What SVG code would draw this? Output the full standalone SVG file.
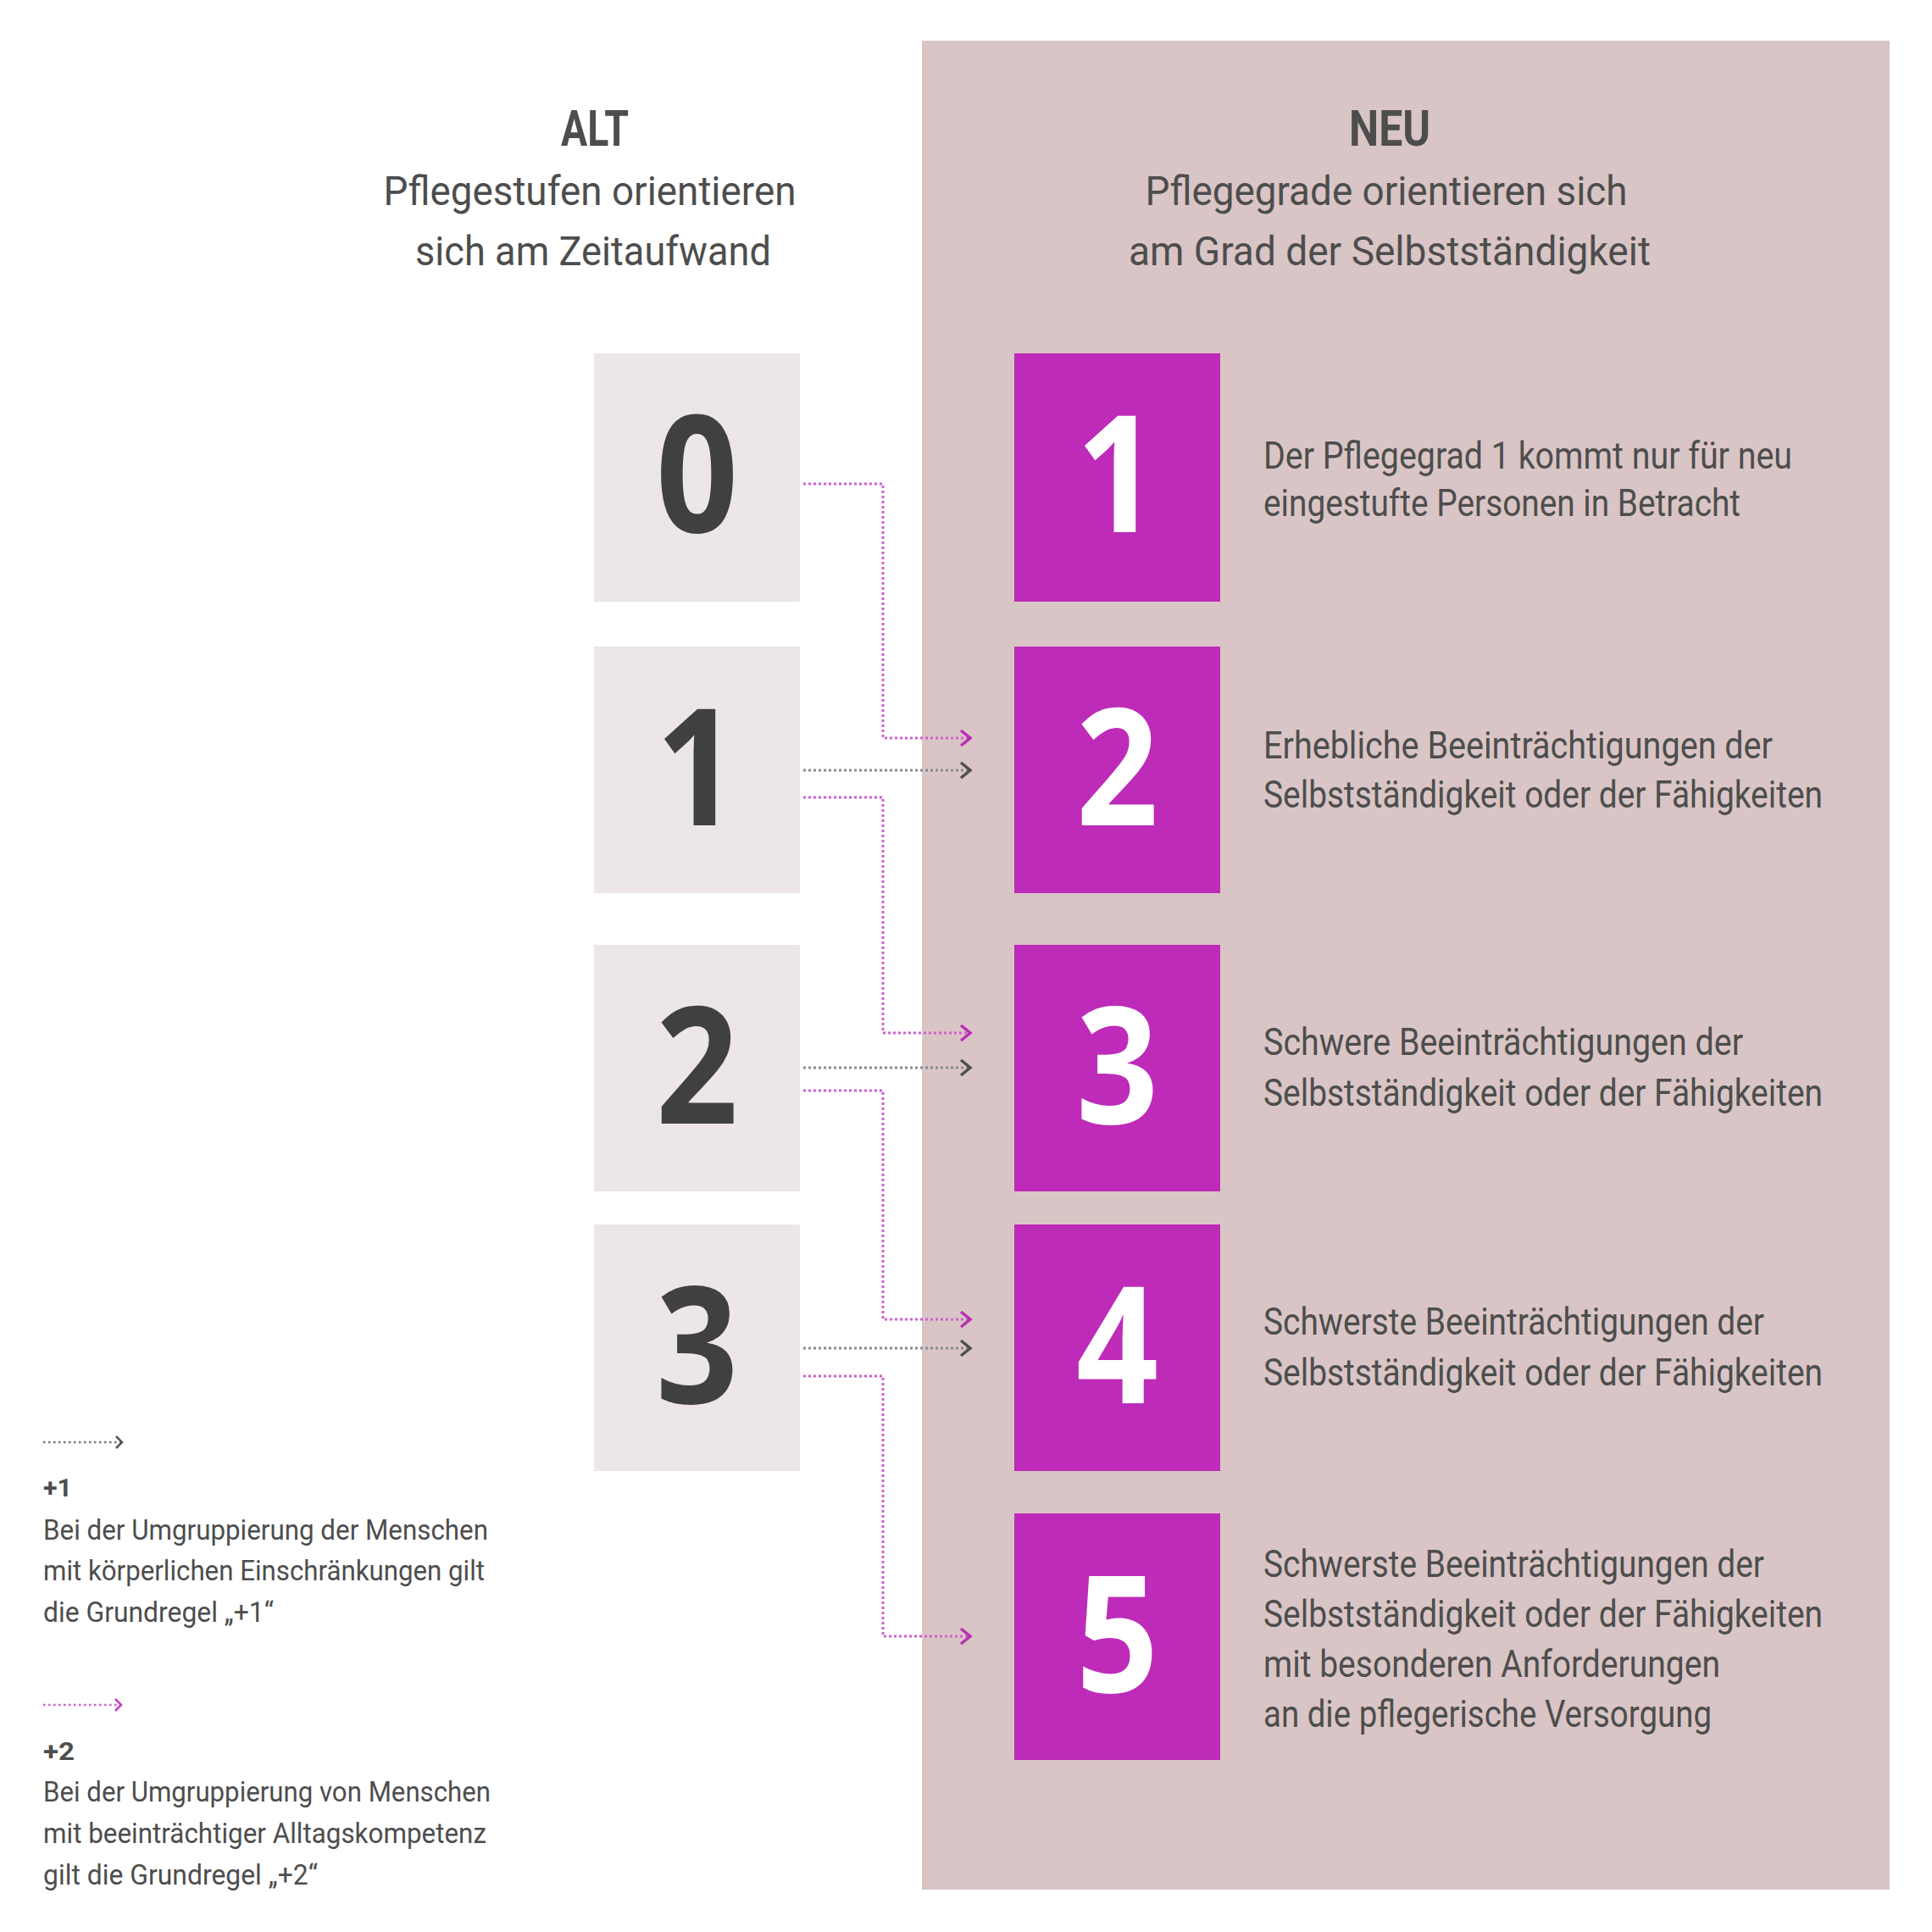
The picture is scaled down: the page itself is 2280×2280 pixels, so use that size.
<svg xmlns="http://www.w3.org/2000/svg" width="2280" height="2280" viewBox="0 0 2280 2280">
<defs>
<style>
.t{font-family:Roboto,"Open Sans","Liberation Sans",sans-serif;fill:#4d4d4d}
.bold{font-weight:700}
.h{font-size:59px}
.sub{font-size:49px;font-weight:400}
.body{font-size:44px;font-weight:400}
.leg{font-size:34px;font-weight:400}
.legh{font-size:30px;font-weight:700}
.dg{font-family:"Open Sans",Roboto,"Liberation Sans",sans-serif;font-weight:700;font-size:193px;text-anchor:middle}
.old{fill:#ede6e6}
.new{fill:#be2bb8}
.pk{fill:none;stroke:#d25fcf;stroke-width:3;stroke-dasharray:3 3}
.gr{fill:none;stroke:#8a8a8a;stroke-width:3;stroke-dasharray:3 3}
</style>
<marker id="ap" markerUnits="userSpaceOnUse" markerWidth="30" markerHeight="30" viewBox="0 0 30 30" refX="16" refY="15" orient="auto" overflow="visible">
<path d="M5 6 L16 15 L5 24" fill="none" stroke="#b82fb4" stroke-width="3.5"/>
</marker>
<marker id="ag" markerUnits="userSpaceOnUse" markerWidth="30" markerHeight="30" viewBox="0 0 30 30" refX="16" refY="15" orient="auto" overflow="visible">
<path d="M5 6 L16 15 L5 24" fill="none" stroke="#4f4f4f" stroke-width="3.5"/>
</marker>
<marker id="sp" markerUnits="userSpaceOnUse" markerWidth="20" markerHeight="20" viewBox="0 0 20 20" refX="12" refY="10" orient="auto" overflow="visible">
<path d="M5 3 L12 10 L5 17" fill="none" stroke="#c83ec4" stroke-width="2.5"/>
</marker>
<marker id="sg" markerUnits="userSpaceOnUse" markerWidth="20" markerHeight="20" viewBox="0 0 20 20" refX="12" refY="10" orient="auto" overflow="visible">
<path d="M5 3 L12 10 L5 17" fill="none" stroke="#555" stroke-width="2.5"/>
</marker>
</defs>
<rect width="2280" height="2280" fill="#ffffff"/>
<rect id="panel-neu" x="1088" y="48" width="1142" height="2182" fill="#d9c5c5"/>

<g id="header-alt" class="t">
<text class="h bold" x="702" y="172" text-anchor="middle" textLength="80" lengthAdjust="spacingAndGlyphs">ALT</text>
<text class="sub" x="696" y="242" text-anchor="middle" textLength="487" lengthAdjust="spacingAndGlyphs">Pflegestufen orientieren</text>
<text class="sub" x="700" y="313" text-anchor="middle" textLength="420" lengthAdjust="spacingAndGlyphs">sich am Zeitaufwand</text>
</g>
<g id="header-neu" class="t">
<text class="h bold" x="1640" y="172" text-anchor="middle" textLength="96" lengthAdjust="spacingAndGlyphs">NEU</text>
<text class="sub" x="1636" y="242" text-anchor="middle" textLength="569" lengthAdjust="spacingAndGlyphs">Pflegegrade orientieren sich</text>
<text class="sub" x="1640" y="313" text-anchor="middle" textLength="616" lengthAdjust="spacingAndGlyphs">am Grad der Selbstständigkeit</text>
</g>

<g id="alt-0"><rect class="old" x="701" y="417" width="243" height="293"/><text class="dg" fill="#404040" transform="translate(822.5,628) scale(0.88,1)">0</text></g>
<g id="alt-1"><rect class="old" x="701" y="763" width="243" height="291"/><text class="dg" fill="#404040" transform="translate(822.5,974) scale(0.88,1)">1</text></g>
<g id="alt-2"><rect class="old" x="701" y="1115" width="243" height="291"/><text class="dg" fill="#404040" transform="translate(822.5,1326) scale(0.88,1)">2</text></g>
<g id="alt-3"><rect class="old" x="701" y="1445" width="243" height="291"/><text class="dg" fill="#404040" transform="translate(822.5,1656) scale(0.88,1)">3</text></g>

<g id="neu-1"><rect class="new" x="1197" y="417" width="243" height="293"/><text class="dg" fill="#ffffff" transform="translate(1318.5,628) scale(0.88,1)">1</text>
<text class="t body" x="1491" y="553" textLength="624" lengthAdjust="spacingAndGlyphs">Der Pflegegrad 1 kommt nur für neu</text>
<text class="t body" x="1491" y="609" textLength="563" lengthAdjust="spacingAndGlyphs">eingestufte Personen in Betracht</text></g>
<g id="neu-2"><rect class="new" x="1197" y="763" width="243" height="291"/><text class="dg" fill="#ffffff" transform="translate(1318.5,974) scale(0.88,1)">2</text>
<text class="t body" x="1491" y="895" textLength="601" lengthAdjust="spacingAndGlyphs">Erhebliche Beeinträchtigungen der</text>
<text class="t body" x="1491" y="953" textLength="660" lengthAdjust="spacingAndGlyphs">Selbstständigkeit oder der Fähigkeiten</text></g>
<g id="neu-3"><rect class="new" x="1197" y="1115" width="243" height="291"/><text class="dg" fill="#ffffff" transform="translate(1318.5,1326) scale(0.88,1)">3</text>
<text class="t body" x="1491" y="1245" textLength="566" lengthAdjust="spacingAndGlyphs">Schwere Beeinträchtigungen der</text>
<text class="t body" x="1491" y="1305" textLength="660" lengthAdjust="spacingAndGlyphs">Selbstständigkeit oder der Fähigkeiten</text></g>
<g id="neu-4"><rect class="new" x="1197" y="1445" width="243" height="291"/><text class="dg" fill="#ffffff" transform="translate(1318.5,1656) scale(0.88,1)">4</text>
<text class="t body" x="1491" y="1575" textLength="591" lengthAdjust="spacingAndGlyphs">Schwerste Beeinträchtigungen der</text>
<text class="t body" x="1491" y="1635" textLength="660" lengthAdjust="spacingAndGlyphs">Selbstständigkeit oder der Fähigkeiten</text></g>
<g id="neu-5"><rect class="new" x="1197" y="1786" width="243" height="291"/><text class="dg" fill="#ffffff" transform="translate(1318.5,1997) scale(0.88,1)">5</text>
<text class="t body" x="1491" y="1861" textLength="591" lengthAdjust="spacingAndGlyphs">Schwerste Beeinträchtigungen der</text>
<text class="t body" x="1491" y="1920" textLength="660" lengthAdjust="spacingAndGlyphs">Selbstständigkeit oder der Fähigkeiten</text>
<text class="t body" x="1491" y="1979" textLength="539" lengthAdjust="spacingAndGlyphs">mit besonderen Anforderungen</text>
<text class="t body" x="1491" y="2038" textLength="529" lengthAdjust="spacingAndGlyphs">an die pflegerische Versorgung</text></g>

<g id="connectors">
<path class="pk" d="M948 571 H1042 V871 H1145" marker-end="url(#ap)"/>
<path class="pk" d="M948 941 H1042 V1219 H1145" marker-end="url(#ap)"/>
<path class="pk" d="M948 1287 H1042 V1557 H1145" marker-end="url(#ap)"/>
<path class="pk" d="M948 1624 H1042 V1931 H1145" marker-end="url(#ap)"/>
<path class="gr" d="M948 909 H1145" marker-end="url(#ag)"/>
<path class="gr" d="M948 1260 H1145" marker-end="url(#ag)"/>
<path class="gr" d="M948 1591 H1145" marker-end="url(#ag)"/>
</g>

<g id="legend-plus1" class="t">
<path d="M51 1702 H144" fill="none" stroke="#777" stroke-width="2.5" stroke-dasharray="2.5 3.5" marker-end="url(#sg)"/>
<text class="legh" x="51" y="1766" textLength="34" lengthAdjust="spacingAndGlyphs">+1</text>
<text class="leg" x="51" y="1817" textLength="525" lengthAdjust="spacingAndGlyphs">Bei der Umgruppierung der Menschen</text>
<text class="leg" x="51" y="1865" textLength="521" lengthAdjust="spacingAndGlyphs">mit körperlichen Einschränkungen gilt</text>
<text class="leg" x="51" y="1914" textLength="272" lengthAdjust="spacingAndGlyphs">die Grundregel „+1“</text>
</g>
<g id="legend-plus2" class="t">
<path d="M51 2012 H143" fill="none" stroke="#d25fcf" stroke-width="2.5" stroke-dasharray="2.5 3.5" marker-end="url(#sp)"/>
<text class="legh" x="51" y="2077" textLength="37" lengthAdjust="spacingAndGlyphs">+2</text>
<text class="leg" x="51" y="2126" textLength="528" lengthAdjust="spacingAndGlyphs">Bei der Umgruppierung von Menschen</text>
<text class="leg" x="51" y="2175" textLength="523" lengthAdjust="spacingAndGlyphs">mit beeinträchtiger Alltagskompetenz</text>
<text class="leg" x="51" y="2224" textLength="324" lengthAdjust="spacingAndGlyphs">gilt die Grundregel „+2“</text>
</g>
</svg>
